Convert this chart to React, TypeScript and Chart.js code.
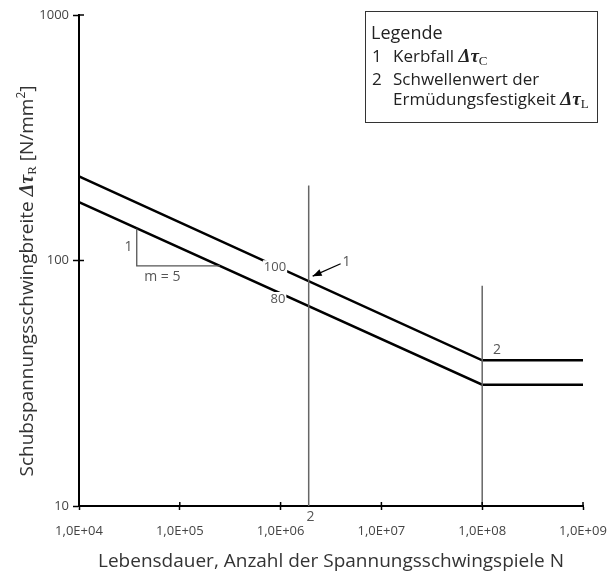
import { useEffect, useRef } from "react";
import { Chart, registerables } from "chart.js";

Chart.register(...registerables);

// ---- data ----
const cycles = [1e4, 1e8, 1e9];
const stressRange100 = [220, 39.2, 39.2];
const stressRange80 = [173, 31.2, 31.2];
const refCycleA = [1.9e6, 1.9e6];
const refLineA = [10, 202];
const refCycleB = [1e8, 1e8];
const refLineB = [10, 79];
const slopeTriX = [3.74e4, 3.74e4, 2.5e5];
const slopeTriY = [135, 95.1, 95.1];
const xTicks = [1e4, 1e5, 1e6, 1e7, 1e8, 1e9];
const xTickLabels = ["1,0E+04", "1,0E+05", "1,0E+06", "1,0E+07", "1,0E+08", "1,0E+09"];
const yTicks = [10, 100, 1000];
const yTickLabels = ["10", "100", "1000"];

const SANS = "'Open Sans', 'Noto Sans', sans-serif";
const SERIF = "'Liberation Serif', 'DejaVu Serif', serif";

type Seg = { t: string; f: string; dy?: number };

function drawRich(ctx: CanvasRenderingContext2D, segs: Seg[], x: number, y: number, align: "left" | "center") {
  let w = 0;
  for (const s of segs) {
    ctx.font = s.f;
    w += ctx.measureText(s.t).width;
  }
  let cx = align === "center" ? x - w / 2 : x;
  ctx.textAlign = "left";
  for (const s of segs) {
    ctx.font = s.f;
    ctx.fillText(s.t, cx, y + (s.dy || 0));
    cx += ctx.measureText(s.t).width;
  }
}

const pts = (xs: number[], ys: number[]) => xs.map((x, i) => ({ x, y: ys[i] }));

const overlay = {
  id: "overlay",
  afterDraw(chart: any) {
    const ctx: CanvasRenderingContext2D = chart.ctx;
    const xs = chart.scales.x;
    const ys = chart.scales.y;
    const area = chart.chartArea;
    const px = (v: number) => xs.getPixelForValue(v);
    const py = (v: number) => ys.getPixelForValue(v);
    ctx.save();

    // inward tick marks
    ctx.strokeStyle = "#000";
    ctx.lineWidth = 1.5;
    for (const v of xTicks) {
      const x = px(v);
      ctx.beginPath();
      ctx.moveTo(x, area.bottom);
      ctx.lineTo(x, area.bottom - 4);
      ctx.stroke();
    }
    for (const v of yTicks) {
      const y = py(v);
      ctx.beginPath();
      ctx.moveTo(area.left, y);
      ctx.lineTo(area.left + 5, y);
      ctx.stroke();
    }

    // line labels with white backgrounds
    ctx.textBaseline = "middle";
    ctx.font = `13px ${SANS}`;
    const boxed = (t: string, x: number, y: number) => {
      const w = ctx.measureText(t).width;
      ctx.fillStyle = "#fff";
      ctx.fillRect(x - w / 2 - 1, y - 7, w + 2, 14);
      ctx.fillStyle = "#555";
      ctx.textAlign = "center";
      ctx.fillText(t, x, y);
    };
    boxed("100", px(8.8e5), py(93.9));
    boxed("80", px(9.4e5), py(69.7));

    ctx.fillStyle = "#555";
    ctx.font = `14px ${SANS}`;
    ctx.textAlign = "center";
    ctx.fillText("1", px(3.1e4), py(113));
    ctx.fillText("m = 5", px(6.7e4), py(85.5));
    ctx.fillText("1", px(4.5e6), py(98.4));
    ctx.fillText("2", px(1.98e6), 517);
    ctx.fillText("2", px(1.4e8), py(43.3));

    // arrow
    const x1 = px(3.94e6), y1 = py(97);
    const x2 = px(2.08e6), y2 = py(86.3);
    ctx.strokeStyle = "#000";
    ctx.fillStyle = "#000";
    ctx.lineWidth = 1.3;
    ctx.beginPath();
    ctx.moveTo(x1, y1);
    ctx.lineTo(x2, y2);
    ctx.stroke();
    const ang = Math.atan2(y2 - y1, x2 - x1);
    const L = 9, W = 3.5;
    ctx.beginPath();
    ctx.moveTo(x2, y2);
    ctx.lineTo(x2 - L * Math.cos(ang) + W * Math.sin(ang), y2 - L * Math.sin(ang) - W * Math.cos(ang));
    ctx.lineTo(x2 - L * Math.cos(ang) - W * Math.sin(ang), y2 - L * Math.sin(ang) + W * Math.cos(ang));
    ctx.closePath();
    ctx.fill();

    // legend box
    ctx.strokeStyle = "#333";
    ctx.lineWidth = 1;
    ctx.strokeRect(365.5, 11.5, 232, 111);
    ctx.fillStyle = "#222";
    ctx.textBaseline = "alphabetic";
    ctx.textAlign = "left";
    ctx.font = `18px ${SANS}`;
    ctx.fillText("Legende", 371, 39);
    ctx.font = `17px ${SANS}`;
    ctx.fillText("1", 372, 62);
    ctx.fillText("2", 372, 85);
    const item = `17px ${SANS}`;
    const math = `bold italic 19px ${SERIF}`;
    const sub = `13px ${SERIF}`;
    drawRich(ctx, [{ t: "Kerbfall ", f: item }, { t: "Δτ", f: math }, { t: "C", f: sub, dy: 3 }], 393, 62, "left");
    drawRich(ctx, [{ t: "Schwellenwert der", f: item }], 393, 85, "left");
    drawRich(ctx, [{ t: "Ermüdungsfestigkeit ", f: item }, { t: "Δτ", f: math }, { t: "L", f: sub, dy: 3 }], 393, 105, "left");

    // axis titles
    ctx.fillStyle = "#333";
    const tf = `19px ${SANS}`;
    drawRich(ctx, [{ t: "Lebensdauer, Anzahl der Spannungsschwingspiele N", f: tf }], 331, 567, "center");
    ctx.save();
    ctx.translate(33, 281);
    ctx.rotate(-Math.PI / 2);
    drawRich(
      ctx,
      [
        { t: "Schubspannungsschwingbreite ", f: tf },
        { t: "Δτ", f: `bold italic 20px ${SERIF}` },
        { t: "R", f: `13px ${SERIF}`, dy: 3 },
        { t: " [N/mm", f: tf },
        { t: "2", f: `12px ${SANS}`, dy: -8 },
        { t: "]", f: tf },
      ],
      0,
      0,
      "center"
    );
    ctx.restore();
    ctx.restore();
  },
};

export default function App() {
  const ref = useRef<HTMLCanvasElement>(null);
  useEffect(() => {
    document.body.style.margin = "0";
    const canvas = ref.current!;
    const lineDs = (data: any, color: string, width: number) => ({
      data,
      showLine: true,
      borderColor: color,
      backgroundColor: color,
      borderWidth: width,
      pointRadius: 0,
      fill: false,
    });
    const chart = new Chart(canvas, {
      type: "scatter",
      data: {
        datasets: [
          lineDs(pts(refCycleA, refLineA), "#666", 1.5),
          lineDs(pts(refCycleB, refLineB), "#666", 1.5),
          lineDs(pts(slopeTriX, slopeTriY), "#555", 1.3),
          lineDs(pts(cycles, stressRange100), "#000", 2.5),
          lineDs(pts(cycles, stressRange80), "#000", 2.5),
        ] as any,
      },
      options: {
        responsive: false,
        animation: false,
        devicePixelRatio: 1,
        layout: { padding: { top: 15, right: 26, left: 0, bottom: 0 } },
        plugins: { legend: { display: false }, tooltip: { enabled: false } },
        scales: {
          x: {
            type: "logarithmic",
            min: 1e4,
            max: 1e9,
            afterBuildTicks: (s: any) => {
              s.ticks = xTicks.map((v) => ({ value: v }));
            },
            afterFit: (s: any) => {
              s.height = 67;
              s.paddingLeft = 0;
              s.paddingRight = 0;
            },
            ticks: {
              callback: (_v: any, i: number) => xTickLabels[i],
              autoSkip: false,
              maxRotation: 0,
              minRotation: 0,
              padding: 13,
              color: "#444",
              font: { family: SANS, size: 13 },
            },
            grid: { drawOnChartArea: false, drawTicks: true, tickLength: 4, tickColor: "#000", tickWidth: 1.5 },
            border: { color: "#000", width: 2 },
          },
          y: {
            type: "logarithmic",
            min: 10,
            max: 1000,
            afterBuildTicks: (s: any) => {
              s.ticks = yTicks.map((v) => ({ value: v }));
            },
            afterFit: (s: any) => {
              s.width = 79;
              s.paddingTop = 0;
              s.paddingBottom = 0;
            },
            ticks: {
              callback: (_v: any, i: number) => yTickLabels[i],
              autoSkip: false,
              padding: 4,
              color: "#444",
              font: { family: SANS, size: 13 },
            },
            grid: { drawOnChartArea: false, drawTicks: true, tickLength: 6, tickColor: "#000", tickWidth: 1.5 },
            border: { color: "#000", width: 2 },
          },
        },
      } as any,
      plugins: [overlay],
    });
    return () => chart.destroy();
  }, []);
  return <canvas ref={ref} width={609} height={573} style={{ display: "block", width: 609, height: 573 }} />;
}
